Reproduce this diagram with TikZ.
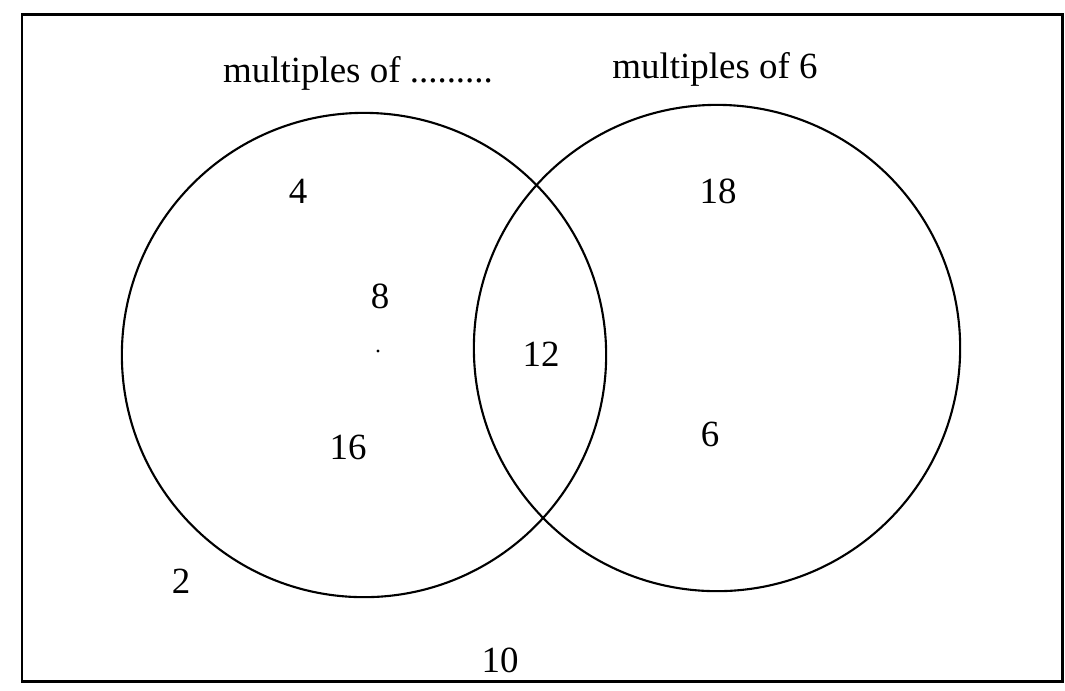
\documentclass[tikz,border=0pt]{standalone}
\usepackage{fontspec}
\setmainfont{Liberation Serif}
\usepackage{tikz}

\begin{document}
\begin{tikzpicture}[
    x=0.01cm, y=-0.01cm,
    setline/.style={draw, line width=0.6pt},
    setlabel/.style={anchor=base, inner sep=0pt, font=\fontsize{10.5}{12}\selectfont},
    num/.style={setlabel},
]
    \useasboundingbox (0,0) rectangle (1065,690);
    \draw[line width=0.85pt] (22,14) rectangle (1062,681);

    % the two sets
    \node[setline, circle, minimum size=4.84cm, inner sep=0pt] (setA) at (364,355) {};
    \node[setline, circle, minimum size=4.86cm, inner sep=0pt] (setB) at (717,348) {};

    \node[setlabel] (nameA) at (358,82) {multiples of .........};
    \node[setlabel] (nameB) at (715,78) {multiples of 6};

    \node[num] (n4) at (298,203) {4};
    \node[num] (n8) at (380,308) {8};
    \node[num] (n16) at (348,459) {16};
    \node[num] (n12) at (541,366) {12};
    \node[num] (n18) at (718,203) {18};
    \node[num] (n6) at (710,446) {6};
    \node[num] (n2) at (181,593) {2};
    \node[num] (n10) at (500,672) {10};

    \fill (378,351) circle (0.45pt);
\end{tikzpicture}
\end{document}
